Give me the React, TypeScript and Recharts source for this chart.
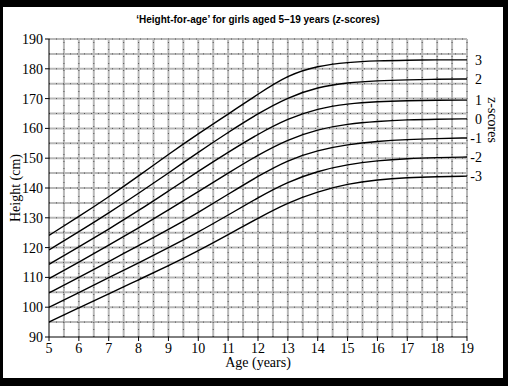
import React from "react";
import { LineChart, Line, XAxis, YAxis, ReferenceLine } from "recharts";

const ages = [5, 6, 7, 8, 9, 10, 11, 12, 13, 14, 15, 16, 17, 18, 19];
const zMinus3 = [95.0, 99.8, 104.5, 109.2, 113.9, 118.9, 124.3, 129.9, 135.1, 138.8, 141.4, 142.8, 143.5, 143.8, 144.0];
const zMinus2 = [100.0, 104.9, 109.9, 114.9, 119.9, 125.2, 130.9, 136.8, 142.1, 145.7, 147.9, 149.2, 149.9, 150.2, 150.4];
const zMinus1 = [104.8, 110.0, 115.3, 120.7, 126.0, 131.8, 137.9, 144.0, 149.4, 152.7, 154.6, 155.7, 156.3, 156.6, 156.8];
const z0 = [109.6, 115.1, 120.8, 126.6, 132.6, 138.8, 145.0, 151.1, 156.3, 159.7, 161.5, 162.4, 162.9, 163.1, 163.2];
const zPlus1 = [114.4, 120.2, 126.2, 132.4, 139.0, 145.6, 152.0, 158.1, 163.3, 166.7, 168.3, 169.0, 169.3, 169.5, 169.5];
const zPlus2 = [119.2, 125.3, 131.6, 138.2, 145.0, 152.0, 158.7, 165.0, 170.4, 173.9, 175.4, 176.0, 176.3, 176.5, 176.6];
const zPlus3 = [124.1, 130.4, 137.0, 144.0, 151.3, 158.2, 164.8, 171.5, 177.9, 181.0, 182.2, 182.7, 182.9, 183.0, 183.0];

const seriesKeys = ["p3", "p2", "p1", "z0", "m1", "m2", "m3"];
const seriesLabels = ["3", "2", "1", "0", "-1", "-2", "-3"];
const seriesValues = [zPlus3, zPlus2, zPlus1, z0, zMinus1, zMinus2, zMinus3];

const xTicks = [5, 6, 7, 8, 9, 10, 11, 12, 13, 14, 15, 16, 17, 18, 19];
const yTicks = [90, 100, 110, 120, 130, 140, 150, 160, 170, 180, 190];
const xGrid = [5.5, 6, 6.5, 7, 7.5, 8, 8.5, 9, 9.5, 10, 10.5, 11, 11.5, 12, 12.5, 13, 13.5, 14, 14.5, 15, 15.5, 16, 16.5, 17, 17.5, 18, 18.5, 19];
const yGrid = [95, 100, 105, 110, 115, 120, 125, 130, 135, 140, 145, 150, 155, 160, 165, 170, 175, 180, 185, 190];

const data = ages.map((age, i) => {
  const row: Record<string, number> = { age };
  seriesKeys.forEach((k, s) => {
    row[k] = seriesValues[s][i];
  });
  return row;
});

const serif = "'Liberation Serif', 'DejaVu Serif', serif";
const sans = "'Liberation Sans', Arial, sans-serif";

const gridStroke = "#b8b8b8";
const gridDash = "#555";

export default function App() {
  const last = ages.length - 1;
  return (
    <div style={{ position: "absolute", left: 0, top: 0, width: 508, height: 386, background: "#000" }}>
      <div style={{ position: "absolute", left: 3, top: 7, width: 500, height: 371, background: "#fff" }} />
      <div style={{ position: "absolute", left: 0, top: 0 }}>
        <LineChart width={508} height={386} data={data} margin={{ top: 39, right: 41, bottom: 19, left: 9 }}>
          <XAxis
            dataKey="age"
            type="number"
            domain={[5, 19]}
            ticks={xTicks}
            allowDataOverflow
            height={30}
            tickSize={4}
            axisLine={{ stroke: "#000", strokeWidth: 1 }}
            tickLine={{ stroke: "#000" }}
            tick={{ fontFamily: serif, fontSize: 14, fill: "#000" }}
          />
          <YAxis
            type="number"
            domain={[90, 190]}
            ticks={yTicks}
            width={40}
            tickSize={4}
            axisLine={{ stroke: "#000", strokeWidth: 1 }}
            tickLine={{ stroke: "#000" }}
            tick={{ fontFamily: serif, fontSize: 14, fill: "#000" }}
          />
          {xGrid.map((v) => (
            <ReferenceLine key={"xg" + v} x={v} stroke={gridStroke} strokeWidth={2} />
          ))}
          {yGrid.map((v) => (
            <ReferenceLine key={"yg" + v} y={v} stroke={gridStroke} strokeWidth={2} />
          ))}
          {xGrid.map((v) => (
            <ReferenceLine key={"xd" + v} x={v} stroke={gridDash} strokeWidth={1} strokeDasharray="1 6" />
          ))}
          {yGrid.map((v) => (
            <ReferenceLine key={"yd" + v} y={v} stroke={gridDash} strokeWidth={1} strokeDasharray="1 6" />
          ))}
          {seriesKeys.map((k, s) => (
            <Line
              key={k}
              dataKey={k}
              type="basis"
              stroke="#000"
              strokeWidth={1.4}
              dot={false}
              isAnimationActive={false}
              label={(p: any) =>
                p.index === last ? (
                  <text
                    key={k + "lbl"}
                    x={p.x + 15}
                    y={p.y}
                    dy={5}
                    textAnchor="end"
                    fontFamily={serif}
                    fontSize={14}
                    fill="#000"
                  >
                    {seriesLabels[s]}
                  </text>
                ) : (
                  <g key={k + "lbl" + p.index} />
                )
              }
            />
          ))}
        </LineChart>
      </div>
      <div
        style={{
          position: "absolute",
          left: 0,
          width: 516,
          top: 14,
          textAlign: "center",
          fontFamily: sans,
          fontWeight: "bold",
          fontSize: 10,
          color: "#000",
          whiteSpace: "nowrap",
        }}
      >
        ‘Height-for-age’ for girls aged 5–19 years (<i>z</i>-scores)
      </div>
      <div
        style={{
          position: "absolute",
          left: 208,
          width: 100,
          top: 355,
          textAlign: "center",
          fontFamily: serif,
          fontSize: 14,
          color: "#000",
          whiteSpace: "nowrap",
        }}
      >
        Age (years)
      </div>
      <div
        style={{
          position: "absolute",
          left: 16 - 50,
          width: 100,
          top: 188 - 9,
          height: 18,
          lineHeight: "18px",
          textAlign: "center",
          fontFamily: serif,
          fontSize: 14,
          color: "#000",
          whiteSpace: "nowrap",
          transform: "rotate(-90deg)",
        }}
      >
        Height (cm)
      </div>
      <div
        style={{
          position: "absolute",
          left: 492 - 40,
          width: 80,
          top: 120 - 9,
          height: 18,
          lineHeight: "18px",
          textAlign: "center",
          fontFamily: serif,
          fontSize: 14,
          color: "#000",
          whiteSpace: "nowrap",
          transform: "rotate(90deg)",
        }}
      >
        z-scores
      </div>
    </div>
  );
}
